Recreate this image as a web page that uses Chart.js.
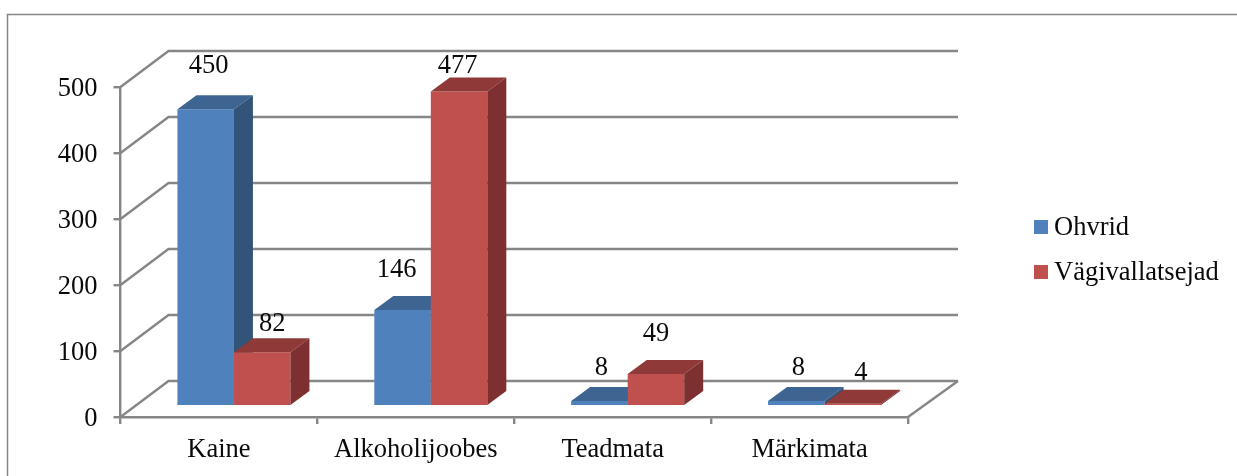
<!DOCTYPE html>
<html>
<head>
<meta charset="utf-8">
<style>html,body{margin:0;padding:0;background:#fff}canvas{display:block}</style>
<script src="https://cdn.jsdelivr.net/npm/chart.js@4"></script>
</head>
<body>
<canvas id="c" width="1237" height="476" style="width:1237px;height:476px"></canvas>
<script>
const categories = ["Kaine", "Alkoholijoobes", "Teadmata", "Märkimata"];
const seriesNames = ["Ohvrid", "Vägivallatsejad"];
const ohvrid = [450, 146, 8, 8];
const vagivallatsejad = [82, 477, 49, 4];
const yTicks = [0, 100, 200, 300, 400, 500];

const FONT = "26.5px 'Liberation Serif', 'Times New Roman', serif";
const TEXT = "#0a0a0a";
const LINE = "#868686";
const LINE_W = 2.4;
const WALL = {dx: 48, dy: -36, dxRight: 50};
const BAR_SHIFT = {x: 15, y: -10.7};
const BAR_DEPTH = {x: 19, y: -14};
const SHADES = [
  {front: "#4F81BD", top: "#3E6492", side: "#335479"},
  {front: "#C0504D", top: "#8F3A38", side: "#7D302F"}
];
// hand placement of the value labels relative to each bar top
const LABEL_NUDGE = [
  [[3, -43], [-6, -40], [2, -33], [2, -33]],
  [[10, -28], [-1.5, -25], [0, -40], [8, -31]]
];

function poly(ctx, pts, fill) {
  ctx.fillStyle = fill;
  ctx.beginPath();
  pts.forEach((p, i) => i ? ctx.lineTo(p[0], p[1]) : ctx.moveTo(p[0], p[1]));
  ctx.closePath();
  ctx.fill();
}

const frame = {
  id: "frame",
  beforeDraw(chart) {
    const ctx = chart.ctx;
    ctx.save();
    ctx.fillStyle = "#fff";
    ctx.fillRect(0, 0, chart.width, chart.height);
    ctx.strokeStyle = LINE;
    ctx.lineWidth = 1.5;
    ctx.beginPath();
    ctx.moveTo(7.5, chart.height);
    ctx.lineTo(7.5, 14.5);
    ctx.lineTo(chart.width, 14.5);
    ctx.stroke();
    ctx.restore();
  }
};

const threeD = {
  id: "threeD",
  beforeDatasetsDraw(chart) {
    const ctx = chart.ctx, a = chart.chartArea, y = chart.scales.y;
    ctx.save();
    // walls and floor
    ctx.strokeStyle = LINE;
    ctx.lineWidth = LINE_W;
    yTicks.forEach(v => {
      const py = y.getPixelForValue(v);
      ctx.beginPath();
      ctx.moveTo(a.left, py);
      ctx.lineTo(a.left + WALL.dx, py + WALL.dy);
      ctx.lineTo(a.right + WALL.dxRight, py + WALL.dy);
      ctx.stroke();
    });
    const py0 = y.getPixelForValue(0);
    ctx.beginPath();
    ctx.moveTo(a.right, py0);
    ctx.lineTo(a.right + WALL.dxRight, py0 + WALL.dy);
    ctx.stroke();
    // bars: left series first so the right one sits in front of its side face
    chart.getSortedVisibleDatasetMetas().forEach((meta, s) => {
      const c = SHADES[s];
      meta.data.forEach(bar => {
        const p = bar.getProps(["x", "y", "base", "width"], true);
        const l = p.x - p.width / 2 + BAR_SHIFT.x, r = p.x + p.width / 2 + BAR_SHIFT.x;
        const t = p.y + BAR_SHIFT.y, b = p.base + BAR_SHIFT.y;
        const dx = BAR_DEPTH.x, dy = BAR_DEPTH.y;
        ctx.save();
        ctx.translate(BAR_SHIFT.x, BAR_SHIFT.y);
        bar.draw(ctx);
        ctx.restore();
        poly(ctx, [[l, t], [r, t], [r + dx, t + dy], [l + dx, t + dy]], c.top);
        poly(ctx, [[r, t], [r + dx, t + dy], [r + dx, b + dy], [r, b]], c.side);
      });
    });
    // value labels
    ctx.font = FONT;
    ctx.fillStyle = TEXT;
    ctx.textAlign = "center";
    ctx.textBaseline = "middle";
    chart.getSortedVisibleDatasetMetas().forEach((meta, s) => {
      const values = chart.data.datasets[meta.index].data;
      meta.data.forEach((bar, i) => {
        const p = bar.getProps(["x", "y", "width"], true);
        const n = LABEL_NUDGE[s][i];
        ctx.fillText(String(values[i]), p.x + BAR_SHIFT.x + n[0], p.y + BAR_SHIFT.y + n[1]);
      });
    });
    ctx.restore();
    return false;
  }
};

const sideLegend = {
  id: "sideLegend",
  afterDraw(chart) {
    const ctx = chart.ctx;
    ctx.save();
    ctx.font = FONT;
    ctx.textAlign = "left";
    ctx.textBaseline = "middle";
    chart.data.datasets.forEach((d, i) => {
      const cy = 227 + i * 45;
      ctx.fillStyle = d.backgroundColor;
      ctx.fillRect(1034, cy - 7, 14, 14);
      ctx.fillStyle = TEXT;
      ctx.fillText(d.label, 1054, cy + 1);
    });
    ctx.restore();
  }
};

new Chart(document.getElementById("c"), {
  type: "bar",
  data: {
    labels: categories,
    datasets: [
      {label: seriesNames[0], data: ohvrid, backgroundColor: SHADES[0].front},
      {label: seriesNames[1], data: vagivallatsejad, backgroundColor: SHADES[1].front}
    ]
  },
  options: {
    responsive: false,
    animation: false,
    events: [],
    layout: {padding: {top: 87, right: 329, left: 0, bottom: 0}},
    categoryPercentage: 0.574,
    barPercentage: 1,
    plugins: {legend: {display: false}, tooltip: {enabled: false}, title: {display: false}},
    scales: {
      x: {
        afterFit(s) { s.height = 59; },
        grid: {color: LINE, lineWidth: LINE_W, drawOnChartArea: false, tickLength: 7},
        border: {color: LINE, width: LINE_W},
        ticks: {color: TEXT, font: {family: "'Liberation Serif'", size: 26.5}, padding: 10, maxRotation: 0, autoSkip: false}
      },
      y: {
        min: 0,
        max: 500,
        afterFit(s) { s.width = 120.5; },
        afterBuildTicks(s) { s.ticks = yTicks.map(v => ({value: v})); },
        grid: {color: LINE, lineWidth: LINE_W, drawOnChartArea: false, tickLength: 7},
        border: {color: LINE, width: LINE_W},
        ticks: {color: TEXT, font: {family: "'Liberation Serif'", size: 26.5}, padding: 16, labelOffset: 2}
      }
    }
  },
  plugins: [frame, threeD, sideLegend]
});
</script>
</body>
</html>
